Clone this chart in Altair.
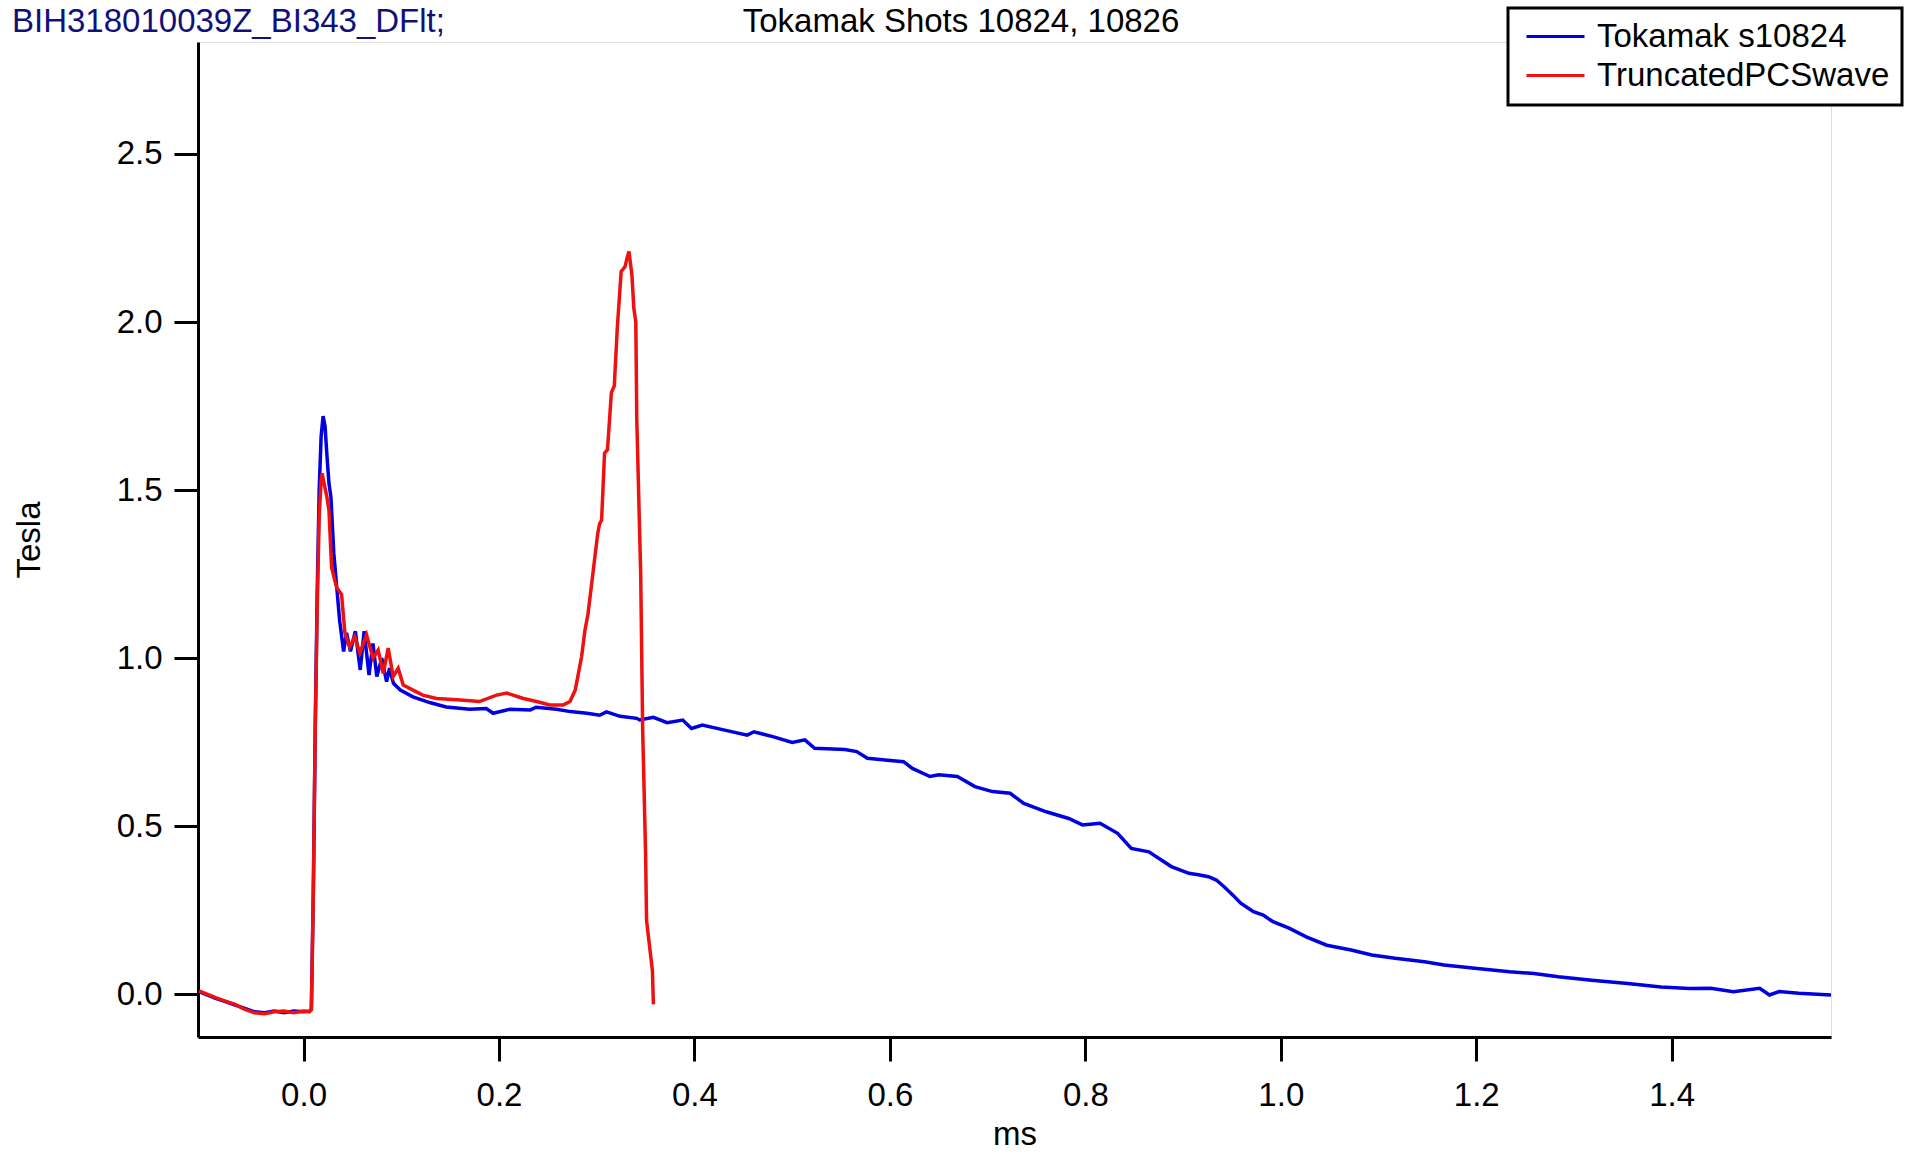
import altair as alt
import pandas as pd

series_names = ["Tokamak s10824", "TruncatedPCSwave"]
series_colors = ["#0000e0", "#ee1111"]

blue_x = [-0.107, -0.100, -0.090, -0.080, -0.070, -0.060, -0.050, -0.040, -0.030, -0.020,
          -0.010, 0.000, 0.006, 0.008, 0.010, 0.012, 0.014, 0.016, 0.018, 0.020,
          0.022, 0.024, 0.026, 0.028, 0.031, 0.034, 0.037, 0.041, 0.044, 0.048,
          0.053, 0.058, 0.062, 0.067, 0.071, 0.075, 0.080, 0.085, 0.088, 0.092,
          0.099, 0.112, 0.129, 0.146, 0.170, 0.187, 0.194, 0.211, 0.232, 0.238,
          0.259, 0.273, 0.290, 0.303, 0.310, 0.324, 0.341, 0.344, 0.358, 0.372,
          0.388, 0.397, 0.408, 0.431, 0.454, 0.461, 0.481, 0.500, 0.513, 0.523,
          0.554, 0.566, 0.577, 0.595, 0.614, 0.623, 0.641, 0.650, 0.669, 0.687,
          0.705, 0.723, 0.737, 0.760, 0.783, 0.797, 0.815, 0.833, 0.847, 0.865,
          0.888, 0.906, 0.917, 0.926, 0.934, 0.942, 0.951, 0.959, 0.972, 0.982,
          0.992, 1.009, 1.026, 1.047, 1.072, 1.093, 1.117, 1.147, 1.167, 1.201,
          1.234, 1.259, 1.284, 1.318, 1.355, 1.389, 1.418, 1.440, 1.463, 1.490,
          1.500, 1.510, 1.530, 1.563]
blue_y = [0.008, 0.000, -0.012, -0.022, -0.032, -0.042, -0.052, -0.055, -0.050, -0.055,
          -0.050, -0.052, -0.050, -0.045, 0.30, 0.80, 1.20, 1.50, 1.66, 1.72,
          1.69, 1.60, 1.52, 1.48, 1.31, 1.21, 1.11, 1.02, 1.075, 1.02,
          1.08, 0.965, 1.08, 0.95, 1.044, 0.945, 1.00, 0.93, 0.97, 0.925,
          0.905, 0.885, 0.868, 0.855, 0.848, 0.850, 0.836, 0.848, 0.846, 0.854,
          0.848, 0.841, 0.836, 0.830, 0.840, 0.827, 0.821, 0.816, 0.824, 0.808,
          0.816, 0.791, 0.801, 0.786, 0.771, 0.781, 0.766, 0.749, 0.757, 0.732,
          0.728, 0.722, 0.702, 0.697, 0.692, 0.672, 0.648, 0.653, 0.648, 0.618,
          0.603, 0.598, 0.568, 0.543, 0.523, 0.504, 0.509, 0.479, 0.434, 0.424,
          0.380, 0.360, 0.355, 0.350, 0.340, 0.320, 0.295, 0.271, 0.246, 0.236,
          0.216, 0.196, 0.171, 0.146, 0.132, 0.117, 0.107, 0.097, 0.087, 0.077,
          0.067, 0.062, 0.052, 0.042, 0.032, 0.022, 0.017, 0.018, 0.008, 0.018,
          -0.002, 0.008, 0.003, -0.002]

red_x = [-0.107, -0.100, -0.090, -0.080, -0.070, -0.060, -0.050, -0.040, -0.030, -0.020,
         -0.010, 0.000, 0.006, 0.008, 0.010, 0.012, 0.014, 0.016, 0.018, 0.019,
         0.021, 0.0235, 0.026, 0.0287, 0.0338, 0.0389, 0.0423, 0.0473, 0.0524, 0.0576,
         0.0645, 0.0712, 0.0764, 0.0815, 0.0866, 0.0917, 0.0968, 0.102, 0.112, 0.122,
         0.136, 0.157, 0.180, 0.1975, 0.208, 0.225, 0.2385, 0.252, 0.266, 0.2726,
         0.278, 0.2845, 0.288, 0.291, 0.296, 0.301, 0.303, 0.305, 0.308, 0.311,
         0.315, 0.318, 0.321, 0.325, 0.329, 0.331, 0.333, 0.336, 0.338, 0.340,
         0.341, 0.345, 0.347, 0.350, 0.351, 0.355, 0.357, 0.358]
red_y = [0.010, 0.002, -0.010, -0.020, -0.030, -0.045, -0.055, -0.058, -0.052, -0.050,
         -0.055, -0.050, -0.052, -0.045, 0.30, 0.80, 1.15, 1.42, 1.53, 1.55,
         1.52, 1.486, 1.44, 1.27, 1.21, 1.19, 1.075, 1.034, 1.064, 1.015,
         1.069, 1.000, 1.024, 0.955, 1.030, 0.945, 0.970, 0.920, 0.905, 0.890,
         0.880, 0.876, 0.871, 0.890, 0.896, 0.880, 0.871, 0.861, 0.861, 0.871,
         0.905, 1.004, 1.084, 1.13, 1.25, 1.37, 1.40, 1.41, 1.61, 1.62,
         1.79, 1.81, 1.98, 2.15, 2.165, 2.19, 2.21, 2.14, 2.04, 2.00,
         1.71, 1.25, 0.79, 0.42, 0.22, 0.12, 0.07, -0.03]

x_ticks = [0.0, 0.2, 0.4, 0.6, 0.8, 1.0, 1.2, 1.4]
y_ticks = [0.0, 0.5, 1.0, 1.5, 2.0, 2.5]

title_text = "Tokamak Shots 10824, 10826"
corner_text = "BIH318010039Z_BI343_DFlt;"

df = pd.concat([
    pd.DataFrame({"ms": blue_x, "Tesla": blue_y, "series": series_names[0]}),
    pd.DataFrame({"ms": red_x, "Tesla": red_y, "series": series_names[1]}),
], ignore_index=True)

FONT = "Liberation Sans"
FS = 33

lines = alt.Chart(df).mark_line(strokeWidth=3.5, clip=True).encode(
    x=alt.X("ms:Q", scale=alt.Scale(domain=[-0.108, 1.563], nice=False, zero=False),
            axis=alt.Axis(title="ms", values=x_ticks, format=".1f", labelPadding=18,
                          titlePadding=6)),
    y=alt.Y("Tesla:Q", scale=alt.Scale(domain=[-0.127, 2.833], nice=False, zero=False),
            axis=alt.Axis(title="Tesla", values=y_ticks, format=".1f", labelPadding=12,
                          titlePadding=70)),
    color=alt.Color("series:N",
                    scale=alt.Scale(domain=series_names, range=series_colors),
                    legend=alt.Legend(title=None, orient="none", legendX=1310, legendY=-34,
                                      symbolType="M-2,0H2", symbolSize=841, symbolOffset=19,
                                      symbolStrokeWidth=3, labelFontSize=FS, labelFont=FONT,
                                      labelColor="black", labelOffset=25, labelLimit=500,
                                      padding=12, rowPadding=5, fillColor="white",
                                      strokeColor="black")),
    order=alt.Order("ms:Q"),
)

texts = pd.DataFrame({"t": [corner_text, title_text],
                      "kind": ["corner", "title"]})

corner = alt.Chart(texts).transform_filter(alt.datum.kind == "corner").mark_text(
    align="left", baseline="middle", font=FONT, fontSize=FS, color="#10107a"
).encode(text="t:N", x=alt.value(-186), y=alt.value(-20))

title = alt.Chart(texts).transform_filter(alt.datum.kind == "title").mark_text(
    align="center", baseline="middle", font=FONT, fontSize=FS, color="black"
).encode(text="t:N", x=alt.value(763), y=alt.value(-20))

chart = alt.layer(lines, corner, title).properties(
    width=1633, height=995,
    padding={"left": 198, "top": 42, "right": 75, "bottom": 117},
    autosize=alt.AutoSizeParams(type="none"),
).configure_view(fill="#f4f4f4", strokeWidth=0).configure(background="white").configure_axis(
    labelFont=FONT, labelFontSize=FS, labelColor="black", titleFont=FONT, titleFontSize=FS,
    titleFontWeight="normal", titleColor="black", domainColor="black", domainWidth=3,
    tickColor="black", tickWidth=3, tickSize=24, grid=False,
).configure_legend(strokeWidth=3)

chart.save("out.html", embed_options={"renderer": "svg", "actions": False})
